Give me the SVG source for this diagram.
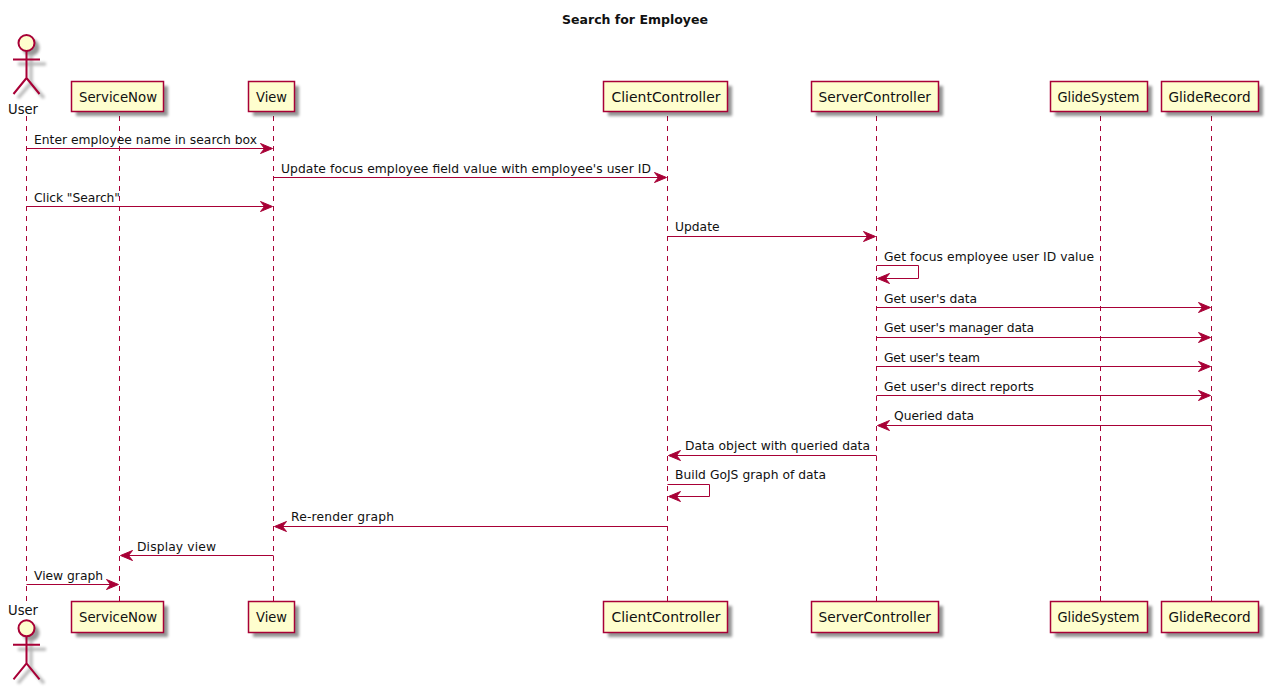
<svg xmlns="http://www.w3.org/2000/svg" width="1268" height="689" viewBox="0 0 1268 689">
<style>
text{font-family:"DejaVu Sans",Verdana,sans-serif;fill:#111}
.t{font-size:13px;font-weight:bold}
.m{font-size:12.3px}
.p{font-size:14px}
.ll{stroke:#A80036;stroke-width:1;stroke-dasharray:5 5;fill:none}
.box{fill:#FEFECE;stroke:#A80036;stroke-width:1.5}
.sh{fill:#000;opacity:.42;filter:url(#b)}
.a{fill:none;stroke:#A80036;stroke-width:1}
.h{fill:#A80036;stroke:#A80036;stroke-width:1}
.act{fill:#FEFECE;stroke:#A80036;stroke-width:2}
.acs{fill:none;stroke:#A80036;stroke-width:2}
.ash{fill:none;stroke:#000;stroke-width:3;opacity:.3;filter:url(#b)}
.ashf{fill:#000;opacity:.4;filter:url(#b)}
</style>
<defs>
<filter id="b" x="-30%" y="-30%" width="160%" height="160%"><feGaussianBlur stdDeviation="1.8"/></filter>
<path id="r" class="h" d="M0 0l-12-5 4 5-4 5z"/>
<path id="l" class="h" d="M0 0l12-5-4 5 4 5z"/>
<g id="actor">
<circle class="ashf" cx="31" cy="47.500" r="8.500"/>
<path class="ash" d="M31 56v27M18 64h28M31 83l-13 15M31 83l13 15"/>
<circle class="act" cx="26.500" cy="43" r="8"/>
<path class="acs" d="M26.500 51v27M13 59.500h27M26.500 78l-13 16M26.500 78l13 16"/>
</g>
</defs>
<text class="t" x="562" y="24" textLength="146" lengthAdjust="spacingAndGlyphs">Search for Employee</text>
<g id="connectors">
<path class="ll" d="M26.500 116V601M119.500 116V601M273.500 116V601M667.500 116V601M876.500 116V601M1100.500 116V601M1211.500 116V601"/>
<path class="a" d="M26.500 148.500H266"/><use href="#r" x="272.500" y="148.500"/>
<path class="a" d="M273.500 177.500H660"/><use href="#r" x="666.500" y="177.500"/>
<path class="a" d="M26.500 206.500H266"/><use href="#r" x="272.500" y="206.500"/>
<path class="a" d="M667.500 236.500H869"/><use href="#r" x="875.500" y="236.500"/>
<path class="a" d="M876.500 265.500H918.500V278.500H884"/><use href="#l" x="877.500" y="278.500"/>
<path class="a" d="M876.500 307.500H1204"/><use href="#r" x="1210.500" y="307.500"/>
<path class="a" d="M876.500 337.500H1204"/><use href="#r" x="1210.500" y="337.500"/>
<path class="a" d="M876.500 366.500H1204"/><use href="#r" x="1210.500" y="366.500"/>
<path class="a" d="M876.500 395.500H1204"/><use href="#r" x="1210.500" y="395.500"/>
<path class="a" d="M1211.500 425.500H884"/><use href="#l" x="877.500" y="425.500"/>
<path class="a" d="M876.500 455.500H675"/><use href="#l" x="668.500" y="455.500"/>
<path class="a" d="M667.500 484.500H709.500V496.500H675"/><use href="#l" x="668.500" y="496.500"/>
<path class="a" d="M667.500 526.500H281"/><use href="#l" x="274.500" y="526.500"/>
<path class="a" d="M273.500 555.500H127"/><use href="#l" x="120.500" y="555.500"/>
<path class="a" d="M26.500 584.500H112"/><use href="#r" x="118.500" y="584.500"/>
</g>
<g id="labels">
<text class="m" x="34" y="144" textLength="223">Enter employee name in search box</text>
<text class="m" x="281" y="173" textLength="370">Update focus employee field value with employee's user ID</text>
<text class="m" x="34" y="202" textLength="86">Click "Search"</text>
<text class="m" x="675" y="231">Update</text>
<text class="m" x="884" y="261" textLength="210">Get focus employee user ID value</text>
<text class="m" x="884" y="303" textLength="93">Get user's data</text>
<text class="m" x="884" y="332" textLength="150">Get user's manager data</text>
<text class="m" x="884" y="362" textLength="96">Get user's team</text>
<text class="m" x="884" y="391" textLength="150">Get user's direct reports</text>
<text class="m" x="894" y="420" textLength="80">Queried data</text>
<text class="m" x="685" y="450" textLength="185">Data object with queried data</text>
<text class="m" x="675" y="479" textLength="151">Build GoJS graph of data</text>
<text class="m" x="291" y="521" textLength="103">Re-render graph</text>
<text class="m" x="137" y="551" textLength="79">Display view</text>
<text class="m" x="34" y="580" textLength="69">View graph</text>
</g>
<g id="user-top"><use href="#actor"/><text class="p" x="8" y="114" textLength="30" lengthAdjust="spacingAndGlyphs">User</text></g>
<g id="user-bottom"><use href="#actor" y="585.300"/><text class="p" x="8" y="615" textLength="30" lengthAdjust="spacingAndGlyphs">User</text></g>
<g id="servicenow-top"><rect class="sh" x="76" y="86" width="92" height="30"/><rect class="box" x="71.500" y="81.500" width="92" height="30"/><text class="p" x="79" y="102" textLength="78" lengthAdjust="spacingAndGlyphs">ServiceNow</text></g>
<g id="view-top"><rect class="sh" x="253" y="86" width="46" height="30"/><rect class="box" x="248.500" y="81.500" width="46" height="30"/><text class="p" x="256" y="102" textLength="31" lengthAdjust="spacingAndGlyphs">View</text></g>
<g id="client-top"><rect class="sh" x="608" y="86" width="124" height="30"/><rect class="box" x="603.500" y="81.500" width="124" height="30"/><text class="p" x="611.500" y="102" textLength="109" lengthAdjust="spacingAndGlyphs">ClientController</text></g>
<g id="server-top"><rect class="sh" x="816" y="86" width="127" height="30"/><rect class="box" x="811.500" y="81.500" width="127" height="30"/><text class="p" x="818.500" y="102" textLength="112.500" lengthAdjust="spacingAndGlyphs">ServerController</text></g>
<g id="glidesystem-top"><rect class="sh" x="1055" y="86" width="97" height="30"/><rect class="box" x="1050.500" y="81.500" width="97" height="30"/><text class="p" x="1057.500" y="102" textLength="82" lengthAdjust="spacingAndGlyphs">GlideSystem</text></g>
<g id="gliderecord-top"><rect class="sh" x="1166" y="86" width="97" height="30"/><rect class="box" x="1161.500" y="81.500" width="97" height="30"/><text class="p" x="1168.500" y="102" textLength="82" lengthAdjust="spacingAndGlyphs">GlideRecord</text></g>
<g id="servicenow-bottom"><rect class="sh" x="76" y="606" width="92" height="31"/><rect class="box" x="71.500" y="601.500" width="92" height="31"/><text class="p" x="79" y="622" textLength="78" lengthAdjust="spacingAndGlyphs">ServiceNow</text></g>
<g id="view-bottom"><rect class="sh" x="253" y="606" width="46" height="31"/><rect class="box" x="248.500" y="601.500" width="46" height="31"/><text class="p" x="256" y="622" textLength="31" lengthAdjust="spacingAndGlyphs">View</text></g>
<g id="client-bottom"><rect class="sh" x="608" y="606" width="124" height="31"/><rect class="box" x="603.500" y="601.500" width="124" height="31"/><text class="p" x="611.500" y="622" textLength="109" lengthAdjust="spacingAndGlyphs">ClientController</text></g>
<g id="server-bottom"><rect class="sh" x="816" y="606" width="127" height="31"/><rect class="box" x="811.500" y="601.500" width="127" height="31"/><text class="p" x="818.500" y="622" textLength="112.500" lengthAdjust="spacingAndGlyphs">ServerController</text></g>
<g id="glidesystem-bottom"><rect class="sh" x="1055" y="606" width="97" height="31"/><rect class="box" x="1050.500" y="601.500" width="97" height="31"/><text class="p" x="1057.500" y="622" textLength="82" lengthAdjust="spacingAndGlyphs">GlideSystem</text></g>
<g id="gliderecord-bottom"><rect class="sh" x="1166" y="606" width="97" height="31"/><rect class="box" x="1161.500" y="601.500" width="97" height="31"/><text class="p" x="1168.500" y="622" textLength="82" lengthAdjust="spacingAndGlyphs">GlideRecord</text></g>
</svg>
